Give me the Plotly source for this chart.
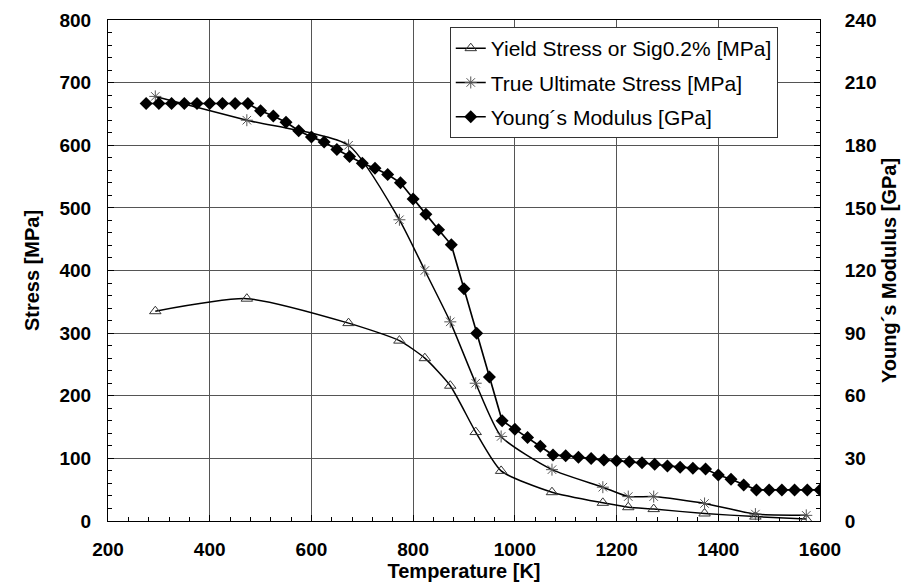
import plotly.graph_objects as go

# Yield stress / Sig0.2% [MPa]
t_yield = [293, 473, 673, 773, 823, 873, 923, 973, 1073, 1173, 1223, 1273, 1373, 1473, 1573]
yield_stress = [335, 355, 316, 288, 260, 216, 142, 80, 46, 29, 22, 19, 12, 7, 3]

# True ultimate stress [MPa]
t_uts = [293, 473, 673, 773, 823, 873, 923, 973, 1073, 1173, 1223, 1273, 1373, 1473, 1573]
uts = [678, 640, 600, 481, 400, 318, 220, 135, 82, 54, 39, 39, 28, 11, 9]

# Young's modulus [GPa]
t_young = [275, 300, 325, 350, 375, 400, 425, 450, 475, 500, 525, 550, 575, 600,
           625, 650, 675, 700, 725, 750, 775, 800, 825, 850, 875, 900, 925, 950,
           975, 1000, 1025, 1050, 1075, 1100, 1125, 1150, 1175, 1200, 1225, 1250,
           1275, 1300, 1325, 1350, 1375, 1400, 1425, 1450, 1475, 1500, 1525, 1550,
           1575, 1600]
young = [200, 200, 200, 200, 200, 200, 200, 200, 200, 196.5, 194, 191, 187, 184,
         181.5, 178, 174.6, 171.4, 169, 166, 162, 154.3, 147, 139.5, 132.3, 111.2, 90, 69,
         48, 44, 40, 35.8, 31.6, 31.3, 30.5, 30, 29.2, 28.9, 28.4, 27.9,
         27.2, 26.4, 25.7, 25.3, 24.9, 22, 20, 17.3, 14.9, 14.9, 14.9, 14.9,
         14.9, 14.9]

x_ticks = [200, 400, 600, 800, 1000, 1200, 1400, 1600]
y_ticks = [0, 100, 200, 300, 400, 500, 600, 700, 800]
y2_ticks = [0, 30, 60, 90, 120, 150, 180, 210, 240]

FONT = "Liberation Sans, Arial, sans-serif"
TICKFONT = dict(size=19, family=FONT, weight="bold", color="black")
TITLEFONT = dict(size=20, family=FONT, color="black")

fig = go.Figure()
fig.add_trace(go.Scatter(
    x=t_yield, y=yield_stress, name="Yield Stress or Sig0.2% [MPa]", legendgroup="a",
    mode="lines+markers", line=dict(color="black", width=1.5, shape="spline", smoothing=0.6),
    marker=dict(symbol="triangle-up-open", size=10, color="#333", line=dict(width=1))))
fig.add_trace(go.Scatter(
    x=t_uts, y=uts, name="True Ultimate Stress [MPa]", legendgroup="b",
    mode="lines+markers", line=dict(color="black", width=1.5, shape="spline", smoothing=0.6),
    marker=dict(symbol="asterisk-open", size=10, color="#555", line=dict(width=1, color="#555"))))
fig.add_trace(go.Scatter(
    x=t_young, y=young, name="Young´s Modulus [GPa]", yaxis="y2", legendgroup="c",
    mode="lines+markers", line=dict(color="black", width=1.7),
    marker=dict(symbol="diamond", size=10, color="black")))

# page body has an 8px margin, so the figure is 902x576 to fill the 910x584 window
fig.update_layout(
    width=902, height=576,
    margin=dict(l=100, r=90, t=12, b=63),
    paper_bgcolor="white", plot_bgcolor="white",
    font=dict(family=FONT, color="black"),
    showlegend=True,
    legend=dict(x=0.48, y=0.986, xanchor="left", yanchor="top",
                bgcolor="white", bordercolor="#333", borderwidth=1,
                font=dict(size=21, family=FONT), tracegroupgap=4,
                itemwidth=30),
    xaxis=dict(range=[200, 1600], tickvals=x_ticks, ticktext=[str(v) for v in x_ticks],
               automargin=False,
               showgrid=True, gridcolor="#555", gridwidth=1,
               showline=True, linecolor="black", linewidth=1, mirror=True,
               ticks="inside", ticklen=6, tickcolor="black",
               minor=dict(dtick=40, ticks="inside", ticklen=4, tickcolor="black", showgrid=False),
               tickfont=TICKFONT,
               ticklabelstandoff=11,
               title=dict(text="<b>Temperature [K]</b>", font=TITLEFONT, standoff=4),
               zeroline=False),
    yaxis=dict(range=[0, 800], tickvals=y_ticks, ticktext=[str(v) for v in y_ticks],
               automargin=False,
               showgrid=True, gridcolor="#555", gridwidth=1,
               showline=True, linecolor="black", linewidth=1,
               ticks="inside", ticklen=6, tickcolor="black",
               minor=dict(dtick=20, ticks="inside", ticklen=4, tickcolor="black", showgrid=False),
               tickfont=TICKFONT,
               ticklabelstandoff=12,
               title=dict(text="<b>Stress [MPa]</b>", font=TITLEFONT, standoff=14),
               zeroline=False),
    yaxis2=dict(range=[0, 240], tickvals=y2_ticks, ticktext=[str(v) for v in y2_ticks],
                automargin=False,
                overlaying="y", side="right", showgrid=False,
                showline=True, linecolor="black", linewidth=1,
                ticks="inside", ticklen=6, tickcolor="black",
                minor=dict(dtick=6, ticks="inside", ticklen=4, tickcolor="black"),
                tickfont=TICKFONT,
                ticklabelstandoff=20,
                title=dict(text="<b>Young´s Modulus [GPa]</b>", font=TITLEFONT, standoff=6),
                zeroline=False),
)

fig.write_html("out.html")
